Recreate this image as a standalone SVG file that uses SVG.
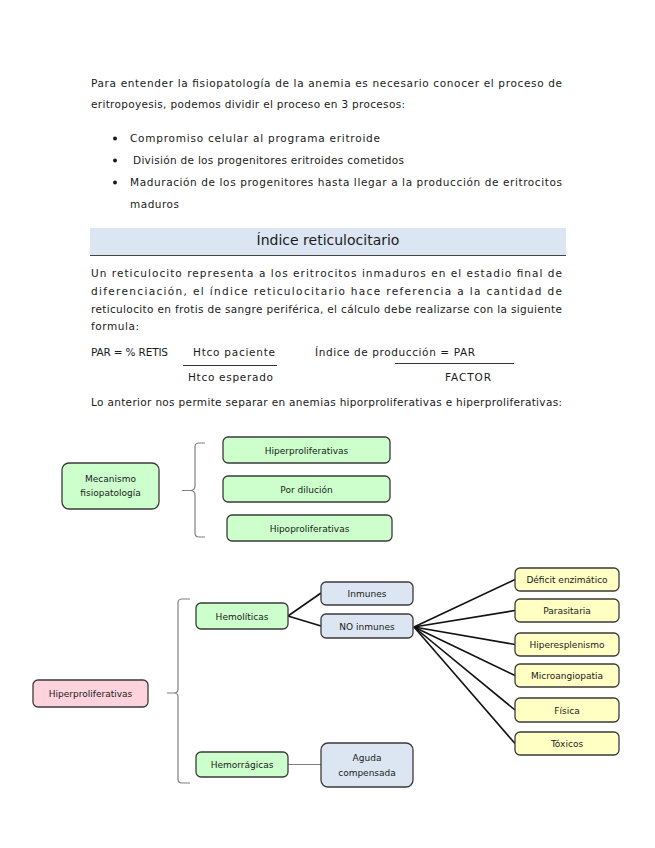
<svg xmlns="http://www.w3.org/2000/svg" width="655" height="848" viewBox="0 0 655 848">
<style>
  .t { font-family: "DejaVu Sans", "Liberation Sans", sans-serif; font-size: 10.5px; fill: #1a1a1a; }
  .h { font-family: "DejaVu Sans", "Liberation Sans", sans-serif; font-size: 14px; fill: #1a1a1a; }
  .n { font-family: "DejaVu Sans", "Liberation Sans", sans-serif; font-size: 9px; fill: #1a1a1a; text-anchor: middle; }
  .box { stroke: #3a3a3a; stroke-width: 1.3; }
  .green { fill: #ccffcc; }
  .pink { fill: #ffd3dd; }
  .blue { fill: #dce6f2; }
  .yellow { fill: #ffffc4; }
  .dark { stroke: #111; stroke-width: 1.6; fill: none; }
  .gray { stroke: #808080; stroke-width: 1.2; fill: none; }
</style>
<rect width="655" height="848" fill="#ffffff"/>

<g id="text-intro">
  <text class="t" x="91" y="87" textLength="471" lengthAdjust="spacing">Para entender la fisiopatología de la anemia es necesario conocer el proceso de</text>
  <text class="t" x="91" y="108" textLength="314" lengthAdjust="spacing">eritropoyesis, podemos dividir el proceso en 3 procesos:</text>
  <circle cx="115" cy="138.5" r="2" fill="#1a1a1a"/>
  <circle cx="115" cy="160.5" r="2" fill="#1a1a1a"/>
  <circle cx="115" cy="182.5" r="2" fill="#1a1a1a"/>
  <text class="t" x="130" y="142" textLength="250" lengthAdjust="spacing">Compromiso celular al programa eritroide</text>
  <text class="t" x="133" y="164" textLength="271" lengthAdjust="spacing">División de los progenitores eritroides cometidos</text>
  <text class="t" x="130" y="186" textLength="432" lengthAdjust="spacing">Maduración de los progenitores hasta llegar a la producción de eritrocitos</text>
  <text class="t" x="130" y="208" textLength="49" lengthAdjust="spacing">maduros</text>
</g>

<g id="header">
  <rect x="90" y="228" width="476" height="27" fill="#dce6f2"/>
  <line x1="90" y1="255.5" x2="566" y2="255.5" stroke="#444" stroke-width="1.2"/>
  <text class="h" x="328" y="245" text-anchor="middle">Índice reticulocitario</text>
</g>

<g id="text-body">
  <text class="t" x="91" y="277" textLength="471" lengthAdjust="spacing">Un reticulocito representa a los eritrocitos inmaduros en el estadio final de</text>
  <text class="t" x="91" y="295" textLength="471" lengthAdjust="spacing">diferenciación, el índice reticulocitario hace referencia a la cantidad de</text>
  <text class="t" x="91" y="313" textLength="471" lengthAdjust="spacing">reticulocito en frotis de sangre periférica, el cálculo debe realizarse con la siguiente</text>
  <text class="t" x="91" y="330" textLength="48" lengthAdjust="spacing">formula:</text>
  <text class="t" x="91" y="356" textLength="77" lengthAdjust="spacing">PAR = % RETIS</text>
  <text class="t" x="193" y="356" textLength="82" lengthAdjust="spacing">Htco paciente</text>
  <line x1="183" y1="365.5" x2="277" y2="365.5" stroke="#333" stroke-width="1"/>
  <text class="t" x="188" y="381" textLength="85" lengthAdjust="spacing">Htco esperado</text>
  <text class="t" x="315" y="356" textLength="160" lengthAdjust="spacing">Índice de producción = PAR</text>
  <line x1="395" y1="363.5" x2="514" y2="363.5" stroke="#333" stroke-width="1"/>
  <text class="t" x="445" y="381" textLength="46" lengthAdjust="spacing">FACTOR</text>
  <text class="t" x="91" y="406" textLength="471" lengthAdjust="spacing">Lo anterior nos permite separar en anemias hiporproliferativas e hiperproliferativas:</text>
</g>

<g id="connectors">
  <path class="gray" d="M205,443 H199 Q195,443 195,447 V486 Q195,490.5 190,490.5 H182 M190,490.5 Q195,490.5 195,495 V533 Q195,537 199,537 H205"/>
  <path class="gray" d="M190,599 H182 Q178,599 178,603 V689 Q178,693 174,693 H167 M174,693 Q178,693 178,697 V779 Q178,783 182,783 H190"/>
  <line class="dark" x1="288" y1="616" x2="321" y2="593"/>
  <line class="dark" x1="288" y1="616" x2="321" y2="626"/>
  <line class="gray" x1="288" y1="764.5" x2="321" y2="764.5"/>
  <line class="dark" x1="414" y1="627" x2="515" y2="579.5"/>
  <line class="dark" x1="414" y1="627" x2="515" y2="610.5"/>
  <line class="dark" x1="414" y1="627" x2="515" y2="644.5"/>
  <line class="dark" x1="414" y1="627" x2="515" y2="675.5"/>
  <line class="dark" x1="414" y1="627" x2="515" y2="710"/>
  <line class="dark" x1="414" y1="627" x2="515" y2="743.5"/>
</g>

<g id="n-mecanismo">
  <rect class="box green" x="62" y="463" width="97" height="46" rx="7"/>
  <text class="n" x="110.5" y="482">Mecanismo</text>
  <text class="n" x="110.5" y="496">fisiopatología</text>
</g>
<g id="n-hiper1">
  <rect class="box green" x="223" y="437" width="167" height="26" rx="5"/>
  <text class="n" x="306.5" y="453.5">Hiperproliferativas</text>
</g>
<g id="n-dilucion">
  <rect class="box green" x="223" y="476" width="167" height="26" rx="5"/>
  <text class="n" x="306.5" y="492.5">Por dilución</text>
</g>
<g id="n-hipo">
  <rect class="box green" x="227" y="515" width="165" height="26" rx="5"/>
  <text class="n" x="309.5" y="531.5">Hipoproliferativas</text>
</g>

<g id="n-hiperproliferativas">
  <rect class="box pink" x="33" y="680" width="115" height="27" rx="5"/>
  <text class="n" x="90.5" y="696.5">Hiperproliferativas</text>
</g>
<g id="n-hemoliticas">
  <rect class="box green" x="196" y="603" width="92" height="26" rx="5"/>
  <text class="n" x="242" y="619.5">Hemolíticas</text>
</g>
<g id="n-hemorragicas">
  <rect class="box green" x="196" y="752" width="92" height="25" rx="5"/>
  <text class="n" x="242" y="768">Hemorrágicas</text>
</g>
<g id="n-inmunes">
  <rect class="box blue" x="321" y="582" width="92" height="23" rx="5"/>
  <text class="n" x="367" y="597">Inmunes</text>
</g>
<g id="n-noinmunes">
  <rect class="box blue" x="321" y="614" width="92" height="24" rx="5"/>
  <text class="n" x="367" y="629.5">NO inmunes</text>
</g>
<g id="n-aguda">
  <rect class="box blue" x="321" y="743" width="92" height="44" rx="7"/>
  <text class="n" x="367" y="761">Aguda</text>
  <text class="n" x="367" y="776">compensada</text>
</g>

<g id="n-deficit">
  <rect class="box yellow" x="515" y="568" width="104" height="23" rx="5"/>
  <text class="n" x="567" y="583">Déficit enzimático</text>
</g>
<g id="n-parasitaria">
  <rect class="box yellow" x="515" y="599" width="104" height="23" rx="5"/>
  <text class="n" x="567" y="614">Parasitaria</text>
</g>
<g id="n-hiperesplenismo">
  <rect class="box yellow" x="515" y="633" width="104" height="23" rx="5"/>
  <text class="n" x="567" y="648">Hiperesplenismo</text>
</g>
<g id="n-microangiopatia">
  <rect class="box yellow" x="515" y="664" width="104" height="23" rx="5"/>
  <text class="n" x="567" y="679">Microangiopatia</text>
</g>
<g id="n-fisica">
  <rect class="box yellow" x="515" y="698" width="104" height="24" rx="5"/>
  <text class="n" x="567" y="713.5">Física</text>
</g>
<g id="n-toxicos">
  <rect class="box yellow" x="515" y="732" width="104" height="23" rx="5"/>
  <text class="n" x="567" y="747">Tóxicos</text>
</g>
</svg>
